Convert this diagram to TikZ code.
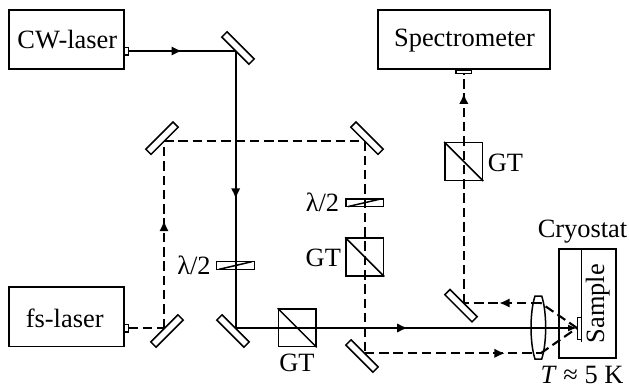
\documentclass[tikz,border=0pt]{standalone}
\usepackage{fontspec}
\setmainfont{Liberation Serif}
\usetikzlibrary{arrows.meta,decorations.markings}
\tikzset{
	frame/.style={draw,line width=1.7pt,inner sep=0pt,minimum width=#1},
	laserbox/.style={frame=115.3pt,minimum height=59.6pt},
	stub/.style={draw,line width=1.3pt,inner sep=0pt},
	mirror/.style={draw,line width=1.5pt,inner sep=0pt,minimum width=38.4pt,minimum height=7.4pt},
	cube/.style={draw,line width=1.5pt,inner sep=0pt,minimum width=37.6pt,minimum height=37.6pt},
	plate/.style={draw,line width=1.5pt,inner sep=0pt,minimum width=37.6pt,minimum height=7.6pt},
	thinline/.style={line width=1.5pt},
	txt/.style={anchor=base,inner sep=0pt},
	beam/.style={line width=2.1pt},
	pulse/.style={line width=2.1pt,dash pattern=on 9.5pt off 4.8pt},
	arrowat/.style={postaction={decorate,decoration={markings,mark=at position #1 with {\arrow[solid]{Latex[length=10.5pt,width=9.5pt]}}}}}
}
\begin{document}
\begin{tikzpicture}[x=1pt,y=-1pt,font=\fontsize{26.4}{30}\selectfont]
	\useasboundingbox (0,0) rectangle (629,388);
	% boxes
	\node [laserbox] (0) at (66.3, 39.5) {\hspace{2pt}CW-laser};
	\node [laserbox] (1) at (66.3, 316.8) {};
	\node [txt] (2) at (64.7, 327.3) {fs-laser};
	\node [frame=172.3pt,minimum height=59.6pt] (3) at (463.8, 39.5) {};
	\node [txt] (4) at (464.5, 46.7) {Spectrometer};
	\node [frame=56.4pt,minimum height=108.4pt] (5) at (587.5, 303.5) {};
	\node [stub,minimum width=4.4pt,minimum height=7.7pt] (6) at (126.2, 51) {};
	\node [stub,minimum width=4.4pt,minimum height=7.7pt] (7) at (126.2, 328) {};
	\node [stub,minimum width=15.6pt,minimum height=3.8pt] (8) at (463.8, 71.8) {};
	% mirrors
	\node [mirror,rotate=-45] (10) at (238, 48) {};
	\node [mirror,rotate=45] (11) at (162, 138.2) {};
	\node [mirror,rotate=-45] (12) at (367, 138.2) {};
	\node [mirror,rotate=45] (13) at (167, 331) {};
	\node [mirror,rotate=-45] (14) at (233, 331) {};
	\node [mirror,rotate=-45] (15) at (362, 356) {};
	\node [mirror,rotate=-45] (16) at (461, 305.7) {};
	% polarizers
	\node [cube] (20) at (297.2, 327.8) {};
	\node [cube] (21) at (364.7, 257) {};
	\node [cube] (22) at (463.8, 161.5) {};
	\node [plate] (23) at (235.5, 265.5) {};
	\node [plate] (24) at (364.7, 202.7) {};
	\node [txt] (25) at (297, 371.7) {GT};
	\node [txt] (26) at (323.3, 266) {GT};
	\node [txt] (27) at (505.5, 171.7) {GT};
	\node [txt] (28) at (194, 274) {λ/2};
	\node [txt] (29) at (322.5, 211.7) {λ/2};
	% beam corners
	\node (30) at (128.4, 51) {};
	\node (31) at (235.7, 51) {};
	\node (32) at (235.7, 328) {};
	\node (33) at (577, 328) {};
	\node (34) at (128.4, 328) {};
	\node (35) at (164, 328) {};
	\node (36) at (164, 141.3) {};
	\node (37) at (364.7, 141.3) {};
	\node (38) at (364.7, 353.3) {};
	\node (39) at (540.7, 353.3) {};
	\node (40) at (540.7, 303) {};
	\node (41) at (463.8, 303) {};
	\node (42) at (463.8, 73.7) {};
	% sample
	\node [draw,line width=1.3pt,inner sep=0pt,minimum width=4pt,minimum height=22pt] (50) at (579.3, 328.3) {};
	\node (51) at (581.7, 249.3) {};
	\node (52) at (581.7, 341.7) {};
	\node [txt,rotate=90] (53) at (604, 303.8) {Sample};
	\node [txt] (54) at (582.5, 237.3) {Cryostat};
	\node [txt] (55) at (582, 383.3) {\textit{T} ≈ 5 K};
	% edges
	\draw [beam,arrowat=0.5] (30.center) to (31.center);
	\draw [beam,arrowat=0.534] (31.center) to (32.center);
	\draw [beam,arrowat=0.504,-{Latex[length=9pt,width=7pt]}] (32.center) to (33.center);
	\draw [pulse] (34.center) to (35.center);
	\draw [pulse,arrowat=0.575] (35.center) to (36.center);
	\draw [pulse] (36.center) to (37.center);
	\draw [pulse] (37.center) to (38.center);
	\draw [pulse,arrowat=0.797] (38.center) to (39.center);
	\draw [pulse] (39.center) to (33.center);
	\draw [pulse] (33.center) to (40.center);
	\draw [pulse,arrowat=0.54] (40.center) to (41.center);
	\draw [pulse,arrowat=0.914] (41.center) to (42.center);
	\draw [thinline] (51.center) to (52.center);
	% cube diagonals
	\draw [thinline] (20.north west) to (20.south east);
	\draw [thinline] (21.north west) to (21.south east);
	\draw [thinline] (22.north west) to (22.south east);
	\draw [thinline,shorten <=3pt,shorten >=3pt] (23.south west) to (23.north east);
	\draw [thinline,shorten <=3pt,shorten >=3pt] (24.south west) to (24.north east);
	% lens
	\draw [thinline] (535, 296) to (541.7, 296) .. controls (547, 312) and (547, 343) .. (541.7, 359) to (535, 359) .. controls (529.7, 343) and (529.7, 312) .. cycle;
\end{tikzpicture}
\end{document}
